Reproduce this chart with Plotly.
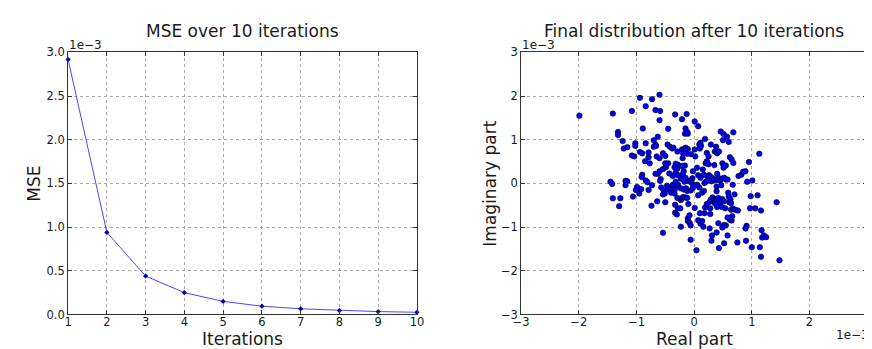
import plotly.graph_objects as go

# ---------------- data ----------------
# values below are in units of 1e-3 (shown by the "1e−3" offset labels)

iterations = [1, 2, 3, 4, 5, 6, 7, 8, 9, 10]
mse_e3 = [2.92, 0.94, 0.44, 0.25, 0.15, 0.095, 0.065, 0.045, 0.033, 0.025]

real_e3 = [
    -1.99, -1.41, -1.08, -0.94, -0.84, -0.73, -0.67, -0.60, -0.59, -0.60,
    -0.33, -0.21, -0.13, 0.01, 0.07, -0.15, -0.12, -0.16, -0.11, -0.45,
    -0.89, -1.32, -1.32, -1.24, -1.22, -1.16, -1.02, -1.02, -1.08, -1.04,
    -0.84, -0.94, -0.90, -0.85, -0.79, -0.79, -0.77, -0.70, -0.70, -0.67,
    -0.66, -0.63, -0.65, -0.60, -0.54, -0.50, -0.46, -0.42, -0.38, -0.36,
    -0.29, -0.21, -0.15, -0.19, -0.20, -0.12, -0.05, -0.11, 0.01, 0.10,
    0.11, 0.12, 0.09, 0.19, 0.29, 0.38, 0.46, 0.51, 0.57, 0.50,
    0.60, 0.68, 0.36, 0.40, 0.43, 0.62, 0.65, 0.68, 1.13, 0.95,
    0.77, 0.82, 0.85, 0.89, 0.92, 1.01, 0.02, 0.22, 0.25, 0.22,
    0.20, 0.25, 0.35, 0.49, 0.55, 0.51, 0.40, 0.34, 0.29, 0.26,
    0.15, 0.17, 0.05, 0.07, -0.02, -0.03, -0.06, -0.09, -0.04, -0.13,
    -0.15, -0.17, -0.23, -0.20, -0.18, -0.16, -0.21, -0.28, -0.32, -0.29,
    -0.34, -0.32, -0.28, -0.37, -0.43, -0.49, -0.50, -0.45, -0.54, -0.60,
    -0.63, -0.58, -0.59, -0.67, -0.73, -0.84, -0.81, -0.90, -0.91, -0.79,
    -0.92, -0.99, -1.01, -0.95, -1.06, -1.16, -1.19, -1.19, -1.45, -1.42,
    -1.41, -1.28, -1.30, -0.74, -0.64, -0.54, -0.57, -0.53, -0.51, -0.54,
    -0.47, -0.45, -0.50, -0.41, -0.40, -0.34, -0.37, -0.32, -0.28, -0.33,
    -0.29, -0.33, -0.33, -0.30, -0.28, -0.24, -0.23, -0.21, -0.19, -0.15,
    -0.12, -0.23, -0.18, -0.14, -0.12, -0.06, -0.02, -0.10, -0.11, -0.08,
    -0.11, -0.08, -0.06, -0.23, -0.06, 0.04, 0.01, 0.07, 0.09, 0.14,
    0.17, 0.05, 0.11, 0.18, 0.21, 0.24, 0.30, 0.35, 0.40, 0.43,
    0.45, 0.48, 0.52, 0.55, 0.47, 0.39, 0.58, 0.67, 0.70, 0.59,
    0.60, 0.63, 0.61, 0.64, 0.64, 0.67, 0.71, 0.76, 0.66, 0.65,
    0.62, 0.58, 0.55, 0.52, 0.58, 0.52, 0.43, 0.39, 0.42, 0.49,
    0.31, 0.30, 0.27, 0.16, 0.11, 0.14, 0.07, 0.10, 0.18, 0.28,
    0.28, 0.19, 0.22, 0.27, 0.29, 0.32, 0.36, 0.39, 0.42, 0.44,
    0.49, 0.52, 0.44, 0.40, 0.36, 0.48, 0.39, 0.54, 0.97, 0.98,
    1.06, 1.10, 1.16, 0.91, 0.89, 0.90, 1.00, 1.14, 1.16, 1.17,
    1.18, 1.21, 1.25, 1.43, 1.48, 0.75,
]
imag_e3 = [
    1.55, 1.60, 1.66, 1.96, 1.77, 1.93, 1.68, 2.03, 1.66, 1.45,
    1.58, 1.47, 1.59, 1.42, 1.31, 1.26, 1.18, 1.14, 1.14, 1.25,
    1.26, 1.18, 1.11, 0.97, 0.80, 0.83, 0.92, 0.86, 0.64, 0.62,
    0.92, 0.72, 0.69, 0.51, 0.71, 0.60, 0.46, 0.99, 0.84, 0.89,
    0.86, 1.07, 0.62, 0.58, 0.69, 0.63, 0.89, 0.84, 0.80, 0.82,
    0.73, 0.78, 0.82, 0.68, 0.58, 0.68, 0.67, 0.79, 0.78, 0.80,
    0.93, 0.86, 0.89, 1.02, 0.89, 0.84, 1.19, 1.13, 1.07, 0.99,
    0.95, 1.17, 0.73, 0.69, 0.73, 0.60, 0.55, 0.47, 0.68, 0.49,
    0.17, 0.20, 0.27, 0.28, 0.04, 0.07, 0.62, 0.70, 0.62, 0.51,
    0.46, 0.44, 0.42, 0.46, 0.41, 0.36, 0.22, 0.11, 0.15, 0.19,
    0.32, 0.20, 0.36, 0.19, 0.28, 0.12, 0.07, 0.05, 0.01, 0.07,
    0.13, 0.04, 0.11, 0.21, 0.28, 0.41, 0.40, 0.43, 0.45, 0.34,
    0.37, 0.25, 0.19, 0.17, 0.23, 0.37, 0.46, 0.46, 0.33, 0.28,
    0.22, 0.10, 0.06, 0.22, -0.04, 0.07, 0.03, 0.20, 0.15, -0.15,
    -0.13, -0.08, -0.15, -0.23, -0.30, 0.05, 0.06, -0.04, 0.04, -0.01,
    -0.34, -0.34, -0.52, -0.51, -0.41, -1.13, -0.09, -0.16, -0.23, -0.25,
    -0.05, -0.14, -0.43, -0.12, -0.21, -0.23, -0.03, 0.04, -0.03, -0.12,
    -0.33, -0.49, -0.67, -0.71, -0.57, -0.57, -0.38, -0.34, -0.31, -0.32,
    -0.33, -0.11, -0.14, -0.11, -0.17, -0.16, -0.10, -0.47, -0.80, -0.73,
    -0.86, -0.90, -0.96, -0.99, -1.29, -1.53, -0.56, -0.27, -0.09, -0.21,
    -0.17, -0.03, 0.13, 0.01, 0.05, 0.16, 0.05, 0.08, 0.08, 0.12,
    0.07, 0.11, 0.13, 0.09, -0.04, -0.07, 0.09, -0.03, -0.25, -0.21,
    -0.30, -0.37, -0.43, -0.45, -0.60, -0.57, -0.60, -0.62, -0.75, -0.85,
    -0.83, -0.78, -0.96, -0.95, -1.19, -1.37, -1.48, -1.12, -0.91, -1.01,
    -1.19, -1.31, -1.03, -0.99, -0.92, -0.86, -0.84, -0.68, -0.68, -0.70,
    -0.57, -0.55, -0.47, -0.42, -0.37, -0.32, -0.36, -0.37, -0.33, -0.38,
    -0.36, -0.41, -0.46, -0.54, -0.46, -0.54, -0.18, -0.57, -0.57, -0.29,
    -0.57, -0.27, -0.62, -0.97, -1.03, -1.31, -1.46, -1.46, -1.68, -1.07,
    -1.24, -1.19, -1.23, -0.43, -1.76, -1.35,
]

axis_ticks = [-3, -2, -1, 0, 1, 2, 3]

# ---------------- figure ----------------
FONT = "DejaVu Sans"
TXT = "#1a1a1a"

fig = go.Figure()

fig.add_trace(go.Scatter(
    x=iterations, y=mse_e3,
    mode="lines+markers",
    line=dict(color="rgba(40,40,255,0.85)", width=1),
    marker=dict(color="#0000b0", size=4, symbol="diamond"),
    xaxis="x", yaxis="y", showlegend=False, cliponaxis=False,
))

fig.add_trace(go.Scatter(
    x=real_e3, y=imag_e3, mode="markers",
    marker=dict(color="#0000ff", size=5.5, line=dict(color="#000000", width=0.6)),
    xaxis="x2", yaxis="y2", showlegend=False,
))

common = dict(
    showline=True, linecolor="#333333", linewidth=1, mirror="allticks",
    ticks="inside", ticklen=4, tickcolor="#333333",
    showgrid=True, gridcolor="#a8a8a8", griddash="dot", gridwidth=1,
    zeroline=False, tickfont=dict(family=FONT, size=11.5, color=TXT),
)

ytop = (349 - 39) / 349
ybot = (349 - 312) / 349

fig.update_layout(
    width=872, height=349,
    margin=dict(l=0, r=0, t=0, b=0),
    paper_bgcolor="white", plot_bgcolor="white",
    font=dict(family=FONT, color=TXT),
    xaxis=dict(domain=[53 / 872, 408 / 872], range=[1, 10], dtick=1, anchor="y",
               ticklabelstandoff=-3, **common),
    yaxis=dict(domain=[ybot, ytop], range=[0, 3.0], dtick=0.5, tickformat=".1f", anchor="x", **common),
    xaxis2=dict(domain=[514 / 872, 866 / 872], range=[-3, 3], tickvals=axis_ticks, anchor="y2",
                ticklabelstandoff=-3, **common),
    yaxis2=dict(domain=[ybot, ytop], range=[-3, 3], tickvals=axis_ticks, anchor="x2", **common),
)

ann = [
    dict(text="MSE over 10 iterations", x=230, y=17, size=17),
    dict(text="Final distribution after 10 iterations", x=690, y=17, size=17),
    dict(text="Iterations", x=230, y=338, size=17),
    dict(text="Real part", x=690, y=338, size=17),
    dict(text="MSE", x=18, y=176, size=17, rot=-90),
    dict(text="Imaginary part", x=482, y=176, size=17, rot=-90),
    dict(text="1e\u22123", x=53, y=31, size=12, xanchor="left"),
    dict(text="1e\u22123", x=514, y=31, size=12, xanchor="left"),
    dict(text="1e\u22123", x=869, y=333, size=12, xanchor="right"),
]
for a in ann:
    fig.add_annotation(
        text=a["text"], xref="paper", yref="paper",
        x=a["x"] / 872, y=(349 - a["y"]) / 349,
        xanchor=a.get("xanchor", "center"), yanchor="middle",
        textangle=a.get("rot", 0), showarrow=False, borderpad=0,
        font=dict(family=FONT, size=a["size"], color=TXT),
    )

fig.write_html("out.html")
